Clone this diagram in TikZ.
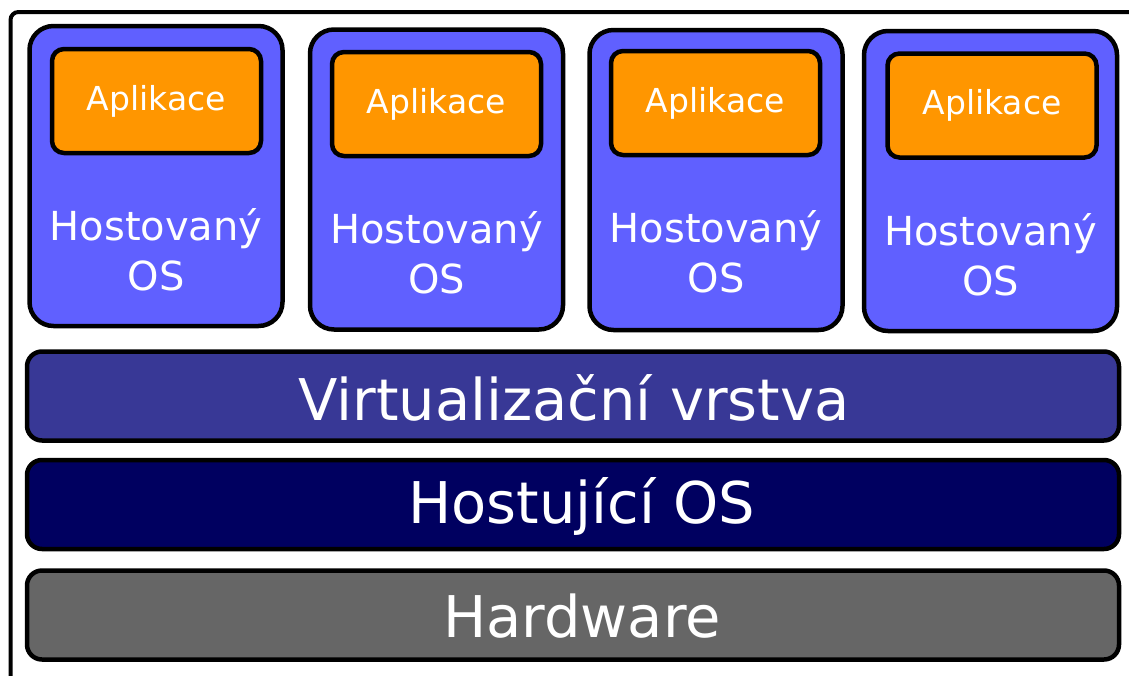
\documentclass[tikz,border=0pt]{standalone}
\usepackage{fontspec}
\setmainfont{DejaVu Sans}
\definecolor{vmblue}{RGB}{96,96,255}
\definecolor{appor}{RGB}{255,150,0}
\definecolor{virtc}{RGB}{56,56,150}
\definecolor{hostc}{RGB}{0,0,96}
\definecolor{hwc}{RGB}{102,102,102}
\begin{document}
\begin{tikzpicture}[x=1pt,y=-1pt,
  vmbox/.style={draw=black, line width=4.5pt, fill=vmblue, rounded corners=24pt,
    minimum width=253pt, minimum height=300pt, inner sep=0pt, outer sep=0pt},
  appbox/.style={draw=black, line width=4.5pt, fill=appor, rounded corners=12pt,
    minimum width=209pt, minimum height=104pt, inner sep=0pt, text=white,
    font=\fontsize{33}{38}\selectfont},
  guest/.style={text=white, align=center, font=\fontsize{40}{50}\selectfont,
    inner sep=0pt, anchor=base},
  layer/.style={draw=black, line width=4.5pt, rounded corners=15pt,
    minimum width=1092pt, minimum height=89pt, inner sep=0pt},
  layertext/.style={text=white, font=\fontsize{57.5}{68}\selectfont,
    inner sep=0pt, anchor=base}]
\useasboundingbox (0,0) rectangle (1129,675);
\clip (0,0) rectangle (1129,675);
\fill[white] (0,0) rectangle (1129,675);
% outer frame (cut off at right and bottom)
\draw[line width=4pt, rounded corners=8pt] (10.5,700) -- (10.5,12) -- (1160,12);
% guest VMs
\node[vmbox] (vm1) at (156,176) {};
\node[vmbox] (vm2) at (436.5,179.5) {};
\node[vmbox] (vm3) at (716,180) {};
\node[vmbox] (vm4) at (990.5,181) {};
\node[appbox] (app1) at (156.5,101) {Aplikace};
\node[appbox] (app2) at (436.5,104) {Aplikace};
\node[appbox] (app3) at (715.5,103) {Aplikace};
\node[appbox] (app4) at (992,105.5) {Aplikace};
\node[guest] (os1) at (156,290) {Hostovaný\\OS};
\node[guest] (os2) at (436.5,293) {Hostovaný\\OS};
\node[guest] (os3) at (716,292) {Hostovaný\\OS};
\node[guest] (os4) at (990.5,295) {Hostovaný\\OS};
% layers
\node[layer, fill=virtc] (virt) at (573,396) {};
\node[layer, fill=hostc] (host) at (573,504.5) {};
\node[layer, fill=hwc] (hw) at (573,615) {};
\node[layertext] (virtlabel) at (574,420) {Virtualizační vrstva};
\node[layertext] (hostlabel) at (582,523) {Hostující OS};
\node[layertext] (hwlabel) at (582,637) {Hardware};
\end{tikzpicture}
\end{document}
